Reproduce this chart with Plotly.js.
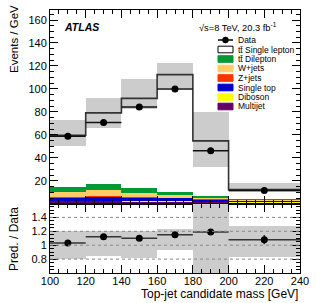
<!DOCTYPE html>
<html>
<head>
<meta charset="utf-8">
<script src="https://cdn.plot.ly/plotly-3.0.1.min.js"></script>
<style>html,body{margin:0;padding:0;background:#fff;}#plot{width:316px;height:303px;}</style>
</head>
<body>
<div id="plot"></div>
<script>
// ---- data (Events / GeV) ----
const binEdges = [100, 120, 140, 160, 180, 200, 240];
const binCenters = [110, 130, 150, 170, 190, 220];
const binHalfWidths = [10, 10, 10, 10, 10, 20];

const dataVals = [58.9, 70.8, 84.2, 99.9, 46.1, 11.6];
const dataErr = [1.7, 1.9, 2.0, 2.2, 1.5, 0.6];

const multijet = [2.1, 2.2, 2.0, 1.8, 1.2, 1.0];
const diboson = [0.4, 0.4, 0.4, 0.3, 0.2, 0.2];
const singleTop = [2.8, 3.5, 3.0, 2.6, 2.2, 1.3];
const zJets = [0.5, 0.6, 0.5, 0.4, 0.3, 0.2];
const wJets = [4.4, 5.0, 3.9, 2.9, 1.2, 0.9];
const ttDilepton = [4.5, 5.3, 3.6, 2.2, 1.4, 0.9];
const ttSingleLepton = [45.0, 62.2, 78.4, 102.3, 48.3, 7.9];

const bandLow = [50.1, 66.1, 82.2, 100.5, 32.1, 10.3];
const bandHigh = [73.4, 91.8, 108.6, 122.2, 80.1, 18.5];

const ratioVals = [1.03, 1.12, 1.10, 1.15, 1.19, 1.08];
const ratioErr = [0.03, 0.03, 0.03, 0.03, 0.04, 0.065];
const ratioBandLow = [0.80, 0.84, 0.82, 0.93, 0.55, 0.83];
const ratioBandHigh = [1.21, 1.20, 1.20, 1.24, 1.65, 1.27];

const xTickVals = [100, 120, 140, 160, 180, 200, 220, 240];

const legendLabels = ['Data', 't\u0074\u0304 Single lepton', 't\u0074\u0304 Dilepton', 'W+jets', 'Z+jets', 'Single top', 'Diboson', 'Multijet'];
const legendColors = [null, '#ffffff', '#009933', '#ffcc66', '#ff3300', '#0000cc', '#ffff00', '#660066'];

// ---- styles ----
const FONT = "'Liberation Sans', Arial, Helvetica, sans-serif";
const BAND = '#cccccc';
const stackDefs = [
  {name: 'Multijet', vals: multijet, color: '#660066'},
  {name: 'Diboson', vals: diboson, color: '#ffff00'},
  {name: 'Single top', vals: singleTop, color: '#0000cc'},
  {name: 'Z+jets', vals: zJets, color: '#ff3300'},
  {name: 'W+jets', vals: wJets, color: '#ffcc66'},
  {name: 'tt Dilepton', vals: ttDilepton, color: '#009933'},
  {name: 'tt Single lepton', vals: ttSingleLepton, color: '#ffffff'}
];
const widths = binHalfWidths.map(h => 2 * h);
const traces = [];
stackDefs.forEach(s => {
  traces.push({type: 'bar', x: binCenters, y: s.vals, width: widths, name: s.name,
    marker: {color: s.color, line: {width: 0}}, xaxis: 'x', yaxis: 'y', hoverinfo: 'skip'});
});
// uncertainty band (base => overlay)
traces.push({type: 'bar', x: binCenters, base: bandLow, y: bandHigh.map((h, i) => h - bandLow[i]),
  width: widths, marker: {color: BAND, line: {width: 0}}, xaxis: 'x', yaxis: 'y', hoverinfo: 'skip'});
// total prediction step line
const total = binCenters.map((_, i) => stackDefs.reduce((a, s) => a + s.vals[i], 0));
traces.push({type: 'scatter', mode: 'lines', x: binEdges, y: total.concat([total[total.length - 1]]),
  line: {shape: 'hv', color: '#333333', width: 1.6}, xaxis: 'x', yaxis: 'y', hoverinfo: 'skip'});
// data
traces.push({type: 'scatter', mode: 'markers', x: binCenters, y: dataVals,
  marker: {color: '#000', size: 7},
  error_x: {type: 'data', array: binHalfWidths, color: '#111', thickness: 1.5, width: 0},
  error_y: {type: 'data', array: dataErr, color: '#111', thickness: 1.5, width: 0},
  xaxis: 'x', yaxis: 'y', hoverinfo: 'skip'});

// ratio band
traces.push({type: 'bar', x: binCenters, base: ratioBandLow, y: ratioBandHigh.map((h, i) => h - ratioBandLow[i]),
  width: widths, marker: {color: BAND, line: {width: 0}}, xaxis: 'x2', yaxis: 'y2', hoverinfo: 'skip'});
traces.push({type: 'scatter', mode: 'markers', x: binCenters, y: ratioVals,
  marker: {color: '#000', size: 7},
  error_x: {type: 'data', array: binHalfWidths, color: '#333', thickness: 1.5, width: 0},
  error_y: {type: 'data', array: ratioErr, color: '#333', thickness: 1.5, width: 0},
  xaxis: 'x2', yaxis: 'y2', hoverinfo: 'skip'});

// ---- layout geometry (pixels) ----
const L = 50, R = 300, T = 10, B = 273, W = 316, H = 303;
const mainBottom = 203.5;
const px2x = p => (p - L) / (R - L);
const px2y = p => (B - p) / (B - T);

const shapes = [];
const annotations = [];
// ratio dotted reference lines
[0.8, 1.0, 1.2, 1.4].forEach(v => {
  shapes.push({type: 'line', xref: 'x2 domain', yref: 'y2', x0: 0, x1: 1, y0: v, y1: v,
    line: {color: '#888', width: 1, dash: 'dot'}, layer: 'above'});
});

// legend
const rowY0 = 40, rowStep = 9.5, boxX0 = 218, boxX1 = 233, textX = 235.5;
legendLabels.forEach((lab, i) => {
  const y = rowY0 + i * rowStep;
  if (i === 0) {
    shapes.push({type: 'line', xref: 'paper', yref: 'paper', x0: px2x(boxX0), x1: px2x(boxX1), y0: px2y(y), y1: px2y(y),
      line: {color: '#000', width: 1.5}});
    shapes.push({type: 'circle', xref: 'paper', yref: 'paper', x0: px2x(222.3), x1: px2x(228.7), y0: px2y(y + 3.2), y1: px2y(y - 3.2),
      fillcolor: '#000', line: {color: '#000', width: 0}});
  } else {
    shapes.push({type: 'rect', xref: 'paper', yref: 'paper', x0: px2x(boxX0), x1: px2x(boxX1), y0: px2y(y + 3.3), y1: px2y(y - 3.3),
      fillcolor: legendColors[i], line: {color: i === 1 ? '#000' : legendColors[i], width: 1}});
  }
  annotations.push({xref: 'paper', yref: 'paper', x: px2x(textX), y: px2y(y), xanchor: 'left', yanchor: 'middle',
    text: lab, showarrow: false, font: {family: FONT, size: 8.5, color: '#000'}});
});

annotations.push({xref: 'paper', yref: 'paper', x: px2x(62), y: px2y(26.5), xanchor: 'left', yanchor: 'middle',
  text: '<b><i>ATLAS</i></b>', showarrow: false, font: {family: FONT, size: 10.5, color: '#000'}});
annotations.push({xref: 'paper', yref: 'paper', x: px2x(197), y: px2y(26.5), xanchor: 'left', yanchor: 'middle',
  text: '\u221As=8 TeV, 20.3 fb<sup>-1</sup>', showarrow: false, font: {family: FONT, size: 9.3, color: '#000'}});
// axis titles (ROOT-style alignment)
annotations.push({xref: 'paper', yref: 'paper', x: 1, y: px2y(294), xanchor: 'right', yanchor: 'middle',
  text: 'Top-jet candidate mass [GeV]', showarrow: false, font: {family: FONT, size: 12, color: '#000'}});
annotations.push({xref: 'paper', yref: 'paper', x: px2x(14), y: px2y(3), xanchor: 'center', yanchor: 'top', textangle: -90,
  text: 'Events / GeV', showarrow: false, font: {family: FONT, size: 11.5, color: '#000'}});
annotations.push({xref: 'paper', yref: 'paper', x: px2x(14), y: px2y(205), xanchor: 'center', yanchor: 'top', textangle: -90,
  text: 'Pred. / Data', showarrow: false, font: {family: FONT, size: 12, color: '#000'}});

const axisCommon = {
  showline: true, linecolor: '#000', linewidth: 1, mirror: 'ticks',
  ticks: 'inside', ticklen: 8, tickwidth: 1, tickcolor: '#000',
  showgrid: false, zeroline: false, fixedrange: true,
  tickfont: {family: FONT, size: 11, color: '#000'}
};
const splitY = px2y(mainBottom);
const layout = {
  width: W, height: H,
  margin: {l: L, r: W - R, t: T, b: H - B, pad: 0},
  paper_bgcolor: '#fff', plot_bgcolor: '#fff',
  showlegend: false, barmode: 'stack', bargap: 0,
  font: {family: FONT, size: 11, color: '#000'},
  xaxis: Object.assign({}, axisCommon, {domain: [0, 1], range: [100, 240], anchor: 'y', showticklabels: false,
    tickmode: 'array', tickvals: xTickVals,
    minor: {dtick: 5, tick0: 100, ticks: 'inside', ticklen: 4, tickcolor: '#000', showgrid: false}}),
  yaxis: Object.assign({}, axisCommon, {domain: [splitY, 1], range: [0.3, 168.7], anchor: 'x', dtick: 20, tick0: 0,
    minor: {dtick: 5, tick0: 0, ticks: 'inside', ticklen: 4, tickcolor: '#000', showgrid: false}}),
  xaxis2: Object.assign({}, axisCommon, {domain: [0, 1], range: [100, 240], anchor: 'y2', matches: 'x',
    tickmode: 'array', tickvals: xTickVals, ticklabelstandoff: -2,
    minor: {dtick: 5, tick0: 100, ticks: 'inside', ticklen: 4, tickcolor: '#000', showgrid: false}}),
  yaxis2: Object.assign({}, axisCommon, {domain: [0, splitY], range: [0.6001, 1.5999], anchor: 'x2', dtick: 0.2, tick0: 0.6,
    minor: {dtick: 0.05, tick0: 0.6, ticks: 'inside', ticklen: 4, tickcolor: '#000', showgrid: false}}),
  shapes: shapes,
  annotations: annotations
};
Plotly.newPlot('plot', traces, layout, {displayModeBar: false, staticPlot: true});
</script>
</body>
</html>
